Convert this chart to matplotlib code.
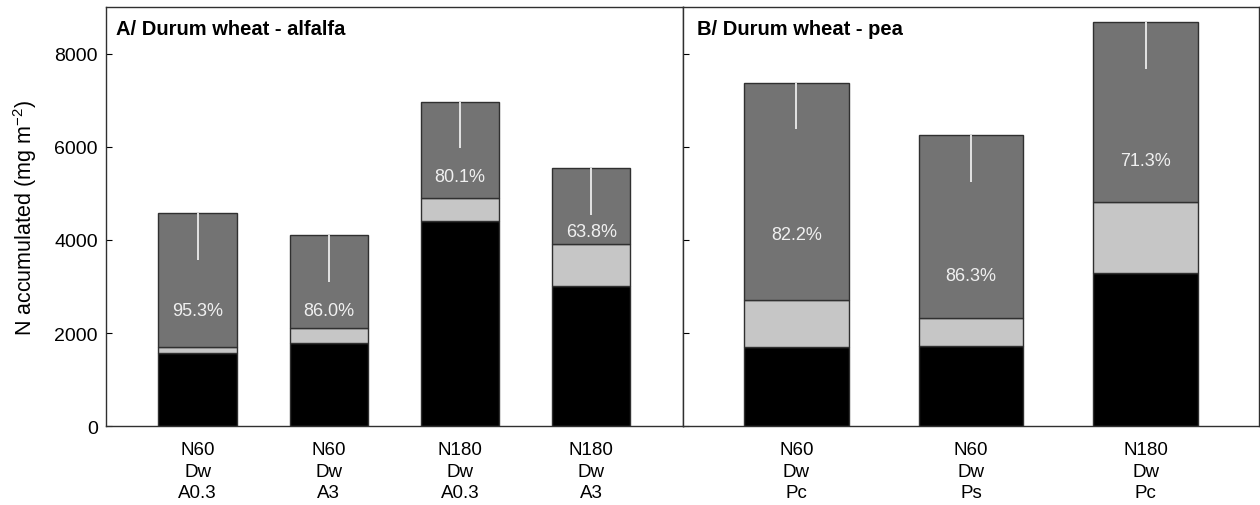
"""N accumulated in durum wheat intercrops: stacked bars, two panels."""
import matplotlib
matplotlib.use("Agg")
import matplotlib.pyplot as plt
import numpy as np

plt.rcParams["font.family"] = ["Liberation Sans", "DejaVu Sans"]
plt.rcParams["mathtext.fontset"] = "custom"
plt.rcParams["mathtext.rm"] = "Liberation Sans"
plt.rcParams["mathtext.it"] = "Liberation Sans:italic"

# panel A: durum wheat - alfalfa
cats_a = ["N60\nDw\nA0.3", "N60\nDw\nA3", "N180\nDw\nA0.3", "N180\nDw\nA3"]
black_a = [1560, 1780, 4410, 3000]      # bottom segment
light_a = [1690, 2100, 4900, 3920]      # top of light grey segment (cumulative)
total_a = [4580, 4110, 6970, 5550]      # bar total
err_a = [1010, 1010, 1000, 1020]
pct_a = ["95.3%", "86.0%", "80.1%", "63.8%"]
pct_y_a = [2475, 2475, 5370, 4180]

# panel B: durum wheat - pea
cats_b = ["N60\nDw\nPc", "N60\nDw\nPs", "N180\nDw\nPc"]
black_b = [1690, 1724, 3300]
light_b = [2711, 2333, 4820]
total_b = [7370, 6260, 8680]
err_b = [990, 1020, 1000]
pct_b = ["82.2%", "86.3%", "71.3%"]
pct_y_b = [4120, 3240, 5710]

C_BLACK = "#000000"
C_LIGHT = "#c6c6c6"
C_DARK = "#737373"
C_EDGE = "#303030"
C_ERR = "#e4e4e4"


def draw_panel(ax, cats, black, light, total, err, pct, pct_y, title, xlim, title_x):
    x = np.arange(len(cats))
    black = np.array(black)
    light = np.array(light)
    total = np.array(total)
    w = 0.6
    ax.bar(x, black, w, color=C_BLACK, edgecolor=C_EDGE, linewidth=1)
    ax.bar(x, light - black, w, bottom=black, color=C_LIGHT, edgecolor=C_EDGE, linewidth=1)
    ax.bar(x, total - light, w, bottom=light, color=C_DARK, edgecolor=C_EDGE, linewidth=1)
    ax.vlines(x, total - np.array(err), total, color=C_ERR, linewidth=1.4, zorder=3)
    for i, (t, yy) in enumerate(zip(pct, pct_y)):
        ax.text(i, yy, t, ha="center", va="center", color="#f0f0f0", fontsize=13)
    ax.text(title_x, 0.95, title, transform=ax.transAxes, ha="left", va="center",
            fontsize=14.5, fontweight="bold")
    ax.set_xticks(x)
    ax.set_xticklabels(cats, fontsize=13.5, linespacing=1.33)
    ax.tick_params(axis="x", length=0, pad=11)
    ax.tick_params(axis="y", direction="in", length=4, labelsize=14, pad=6)
    ax.set_xlim(*xlim)
    ax.set_ylim(0, 9000)
    ax.set_yticks([0, 2000, 4000, 6000, 8000])
    for s in ax.spines.values():
        s.set_linewidth(1.0)
        s.set_color("#303030")


fig = plt.figure(figsize=(12.6, 5.06), dpi=100)
ax_a = fig.add_axes([0.0841, 0.156, 0.4579, 0.8276])
ax_b = fig.add_axes([0.5420, 0.156, 0.4572, 0.8276], sharey=ax_a)

draw_panel(ax_a, cats_a, black_a, light_a, total_a, err_a, pct_a, pct_y_a,
           "A/ Durum wheat - alfalfa", (-0.7, 3.7), 0.017)
draw_panel(ax_b, cats_b, black_b, light_b, total_b, err_b, pct_b, pct_y_b,
           "B/ Durum wheat - pea", (-0.65, 2.65), 0.025)
ax_b.tick_params(axis="y", labelleft=False)

ax_a.set_ylabel("N accumulated (mg m$^{-2}$)", fontsize=15.5, labelpad=11)

fig.savefig("out.png", dpi=100)
